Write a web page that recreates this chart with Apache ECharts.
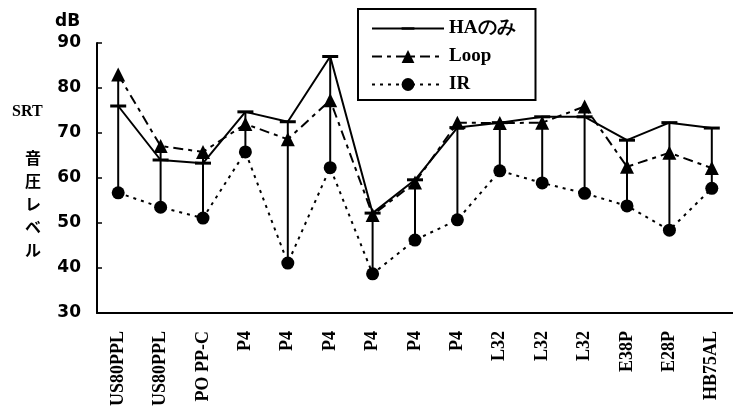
<!DOCTYPE html>
<html><head><meta charset="utf-8">
<script src="https://cdn.jsdelivr.net/npm/echarts@6/dist/echarts.min.js"></script>
<style>html,body{margin:0;padding:0;background:#fff}#c{width:733px;height:415px}</style>
</head><body><div id="c"></div>
<script>
const categories = ['US80PPL','US80PPL','PO PP-C','P4','P4','P4','P4','P4','P4','L32','L32','L32','E38P','E28P','HB75AL'];
const haOnly = [76, 64, 63.3, 74.7, 72.5, 87, 52.2, 59.6, 71.2, 72.3, 73.6, 73.6, 68.4, 72.3, 71.1];
const loop   = [83, 67.1, 65.8, 72, 68.6, 77.3, 51.8, 59, 72.3, 72.2, 72.3, 75.9, 62.5, 65.6, 62.2];
const ir     = [56.7, 53.5, 51.1, 65.8, 41.1, 62.3, 38.7, 46.2, 50.7, 61.6, 58.9, 56.6, 53.8, 48.4, 57.7];
const yTicks = [30, 40, 50, 60, 70, 80, 90];

const ranges = categories.map((c, i) => [i, Math.min(haOnly[i], loop[i], ir[i]), Math.max(haOnly[i], loop[i], ir[i])]);

const chart = echarts.init(document.getElementById('c'));
const black = '#000';
chart.setOption({
  animation: false,
  backgroundColor: '#fff',
  grid: { left: 97, right: -6, top: 43, bottom: 102 },
  legend: {
    orient: 'vertical', left: 358, top: 9,
    data: ['HAのみ', 'Loop', 'IR'],
    itemWidth: 72, itemHeight: 16, itemGap: 9,
    borderColor: black, borderWidth: 2, padding: [10, 20, 6, 13],
    textStyle: { color: black, fontSize: 19, fontWeight: 'bold', fontFamily: 'Liberation Serif' }
  },
  xAxis: {
    type: 'category', data: categories, boundaryGap: true,
    axisLine: { lineStyle: { color: black, width: 2 } },
    axisTick: { inside: true, length: 5, interval: 0, lineStyle: { color: black, width: 1.5 } },
    axisLabel: { rotate: 90, interval: 0, color: black, fontSize: 18, fontWeight: 'bold', fontFamily: 'Liberation Serif', margin: 18 }
  },
  yAxis: {
    type: 'value', min: yTicks[0], max: yTicks[yTicks.length - 1], interval: 10,
    axisLine: { show: true, lineStyle: { color: black, width: 2 } },
    axisTick: { show: true, inside: true, length: 5, lineStyle: { color: black, width: 1.5 } },
    splitLine: { show: false },
    axisLabel: { color: black, fontSize: 17, fontWeight: 'bold', fontFamily: 'DejaVu Sans', margin: 16 }
  },
  graphic: [
    { type: 'text', left: 55, top: 13, style: { text: 'dB', fill: black, font: 'bold 17px "DejaVu Sans"' } },
    { type: 'text', left: 12, top: 104, style: { text: 'SRT', fill: black, font: 'bold 16px "Liberation Serif"' } },
    { type: 'text', left: 25, top: 146, style: { text: '音\n圧\nレ\nベ\nル', fill: black, font: 'bold 16px "Noto Sans CJK JP"', lineHeight: 23 } }
  ],
  series: [
    {
      type: 'custom', name: 'range', data: ranges, z: 1, silent: true,
      renderItem: (params, api) => {
        const p1 = api.coord([api.value(0), api.value(1)]);
        const p2 = api.coord([api.value(0), api.value(2)]);
        return { type: 'line', shape: { x1: p1[0], y1: p1[1], x2: p2[0], y2: p2[1] }, style: { stroke: black, lineWidth: 2 } };
      }
    },
    {
      name: 'HAのみ', type: 'line', data: haOnly, z: 3,
      symbol: 'path://M0,0M16,16M0,6.5H16V9.5H0Z', symbolSize: 16, showAllSymbol: true,
      itemStyle: { color: black },
      lineStyle: { color: black, width: 2, type: 'solid' }
    },
    {
      name: 'Loop', type: 'line', data: loop, z: 4,
      symbol: 'triangle', symbolSize: 14, showAllSymbol: true,
      itemStyle: { color: black },
      lineStyle: { color: black, width: 2, type: [10, 5, 4, 5] }
    },
    {
      name: 'IR', type: 'line', data: ir, z: 4,
      symbol: 'circle', symbolSize: 13, showAllSymbol: true,
      itemStyle: { color: black },
      lineStyle: { color: black, width: 2, type: [3, 5] }
    }
  ]
});
</script></body></html>
